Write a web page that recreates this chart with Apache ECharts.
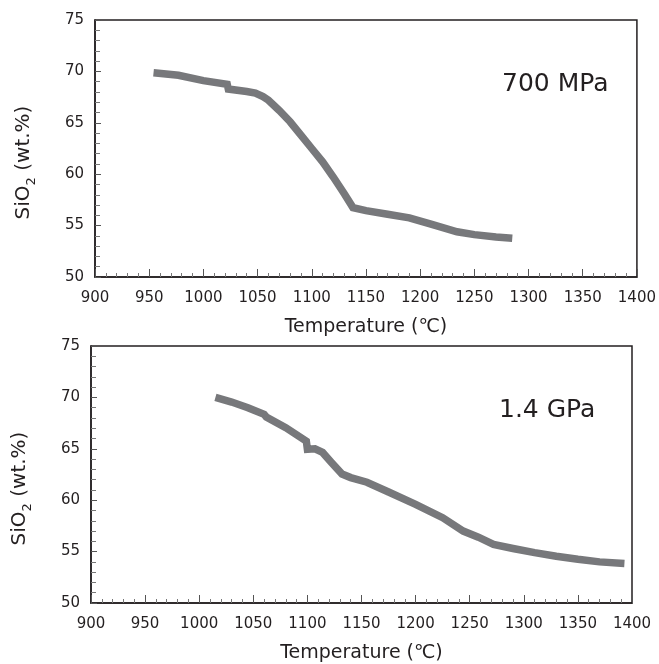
<!DOCTYPE html>
<html>
<head>
<meta charset="utf-8">
<script src="https://cdn.jsdelivr.net/npm/echarts@6/dist/echarts.min.js"></script>
<style>
  html, body { margin: 0; padding: 0; background: #fff; }
  #main { width: 659px; height: 664px; }
</style>
</head>
<body>
<div id="main"></div>
<script>
// 700 MPa run
const tempA = [954, 977, 978, 1000, 1022, 1023, 1040, 1048, 1055, 1060, 1070, 1080, 1090, 1100, 1110, 1120, 1130, 1138, 1150, 1170, 1190, 1210, 1234, 1250, 1270, 1285];
const sio2A = [69.87, 69.62, 69.45, 69.1, 68.75, 68.28, 68.05, 67.9, 67.55, 67.2, 66.2, 65.1, 63.8, 62.5, 61.2, 59.7, 58.1, 56.75, 56.45, 56.1, 55.75, 55.15, 54.4, 54.12, 53.9, 53.78];

// 1.4 GPa run
const tempB = [1015, 1030, 1045, 1060, 1062, 1080, 1099, 1100, 1107, 1114, 1122, 1132, 1140, 1155, 1175, 1200, 1225, 1244, 1258, 1272, 1290, 1310, 1330, 1350, 1370, 1393];
const sio2B = [70.0, 69.55, 69.0, 68.35, 68.1, 67.05, 65.75, 64.95, 65.0, 64.65, 63.7, 62.55, 62.2, 61.75, 60.8, 59.6, 58.3, 57.0, 56.4, 55.7, 55.3, 54.9, 54.55, 54.25, 54.0, 53.85];

const xTicks = [900, 950, 1000, 1050, 1100, 1150, 1200, 1250, 1300, 1350, 1400];
const yTicks = [50, 55, 60, 65, 70, 75];
const panelLabels = ['700 MPa', '1.4 GPa'];

const ink = '#231f20';
const lineGrey = '#77787b';
const font = 'DejaVu Sans';

function pairs(xs, ys) {
    return xs.map((x, i) => [x, ys[i]]);
}

function xAxisFor(idx) {
    return {
        type: 'value',
        gridIndex: idx,
        min: xTicks[0],
        max: xTicks[xTicks.length - 1],
        interval: 50,
        name: 'Temperature (℃)',
        nameLocation: 'middle',
        nameGap: 41,
        nameTextStyle: { fontFamily: font, fontSize: 19, color: ink },
        axisLine: { show: true, lineStyle: { color: ink, width: 1.5 } },
        axisTick: { show: true, inside: true, length: 8, lineStyle: { color: '#555' } },
        minorTick: { show: true, splitNumber: 5, length: 4, lineStyle: { color: '#777' } },
        axisLabel: { fontFamily: font, fontSize: 15, color: ink, margin: 14, formatter: v => String(v) },
        splitLine: { show: false }
    };
}

function yAxisFor(idx) {
    return {
        type: 'value',
        gridIndex: idx,
        min: yTicks[0],
        max: yTicks[yTicks.length - 1],
        interval: 5,
        name: '{a|SiO}{b|2}{a| (wt.%)}',
        nameLocation: 'middle',
        nameGap: 57,
        nameTextStyle: {
            color: ink,
            padding: [0, 28, 0, 0],
            rich: {
                a: { fontFamily: font, fontSize: 20, color: ink, verticalAlign: 'top', lineHeight: 24 },
                b: { fontFamily: font, fontSize: 13, color: ink, verticalAlign: 'bottom', lineHeight: 10 }
            }
        },
        axisLine: { show: true, lineStyle: { color: ink, width: 1.5 } },
        axisTick: { show: true, inside: true, length: 6, lineStyle: { color: '#555' } },
        minorTick: { show: true, splitNumber: 5, length: 5, lineStyle: { color: '#777' } },
        axisLabel: { fontFamily: font, fontSize: 15, color: ink, margin: 11 },
        splitLine: { show: false }
    };
}

function seriesFor(idx, data) {
    return {
        type: 'line',
        xAxisIndex: idx,
        yAxisIndex: idx,
        data: data,
        showSymbol: false,
        symbol: 'none',
        lineStyle: { color: lineGrey, width: 7.5, cap: 'butt', join: 'miter' },
        silent: true,
        animation: false
    };
}

let chart = echarts.init(document.getElementById('main'));

let option = {
    backgroundColor: '#fff',
    animation: false,
    title: [
        { text: panelLabels[0], left: 497, top: 67, textStyle: { fontFamily: font, fontSize: 25, fontWeight: 'normal', color: ink } },
        { text: panelLabels[1], left: 494, top: 393, textStyle: { fontFamily: font, fontSize: 25, fontWeight: 'normal', color: ink } }
    ],
    grid: [
        { left: 95, right: 22, top: 20, height: 257, show: true, borderColor: ink, borderWidth: 1.5, backgroundColor: 'transparent' },
        { left: 91, right: 27, top: 346, height: 258, show: true, borderColor: ink, borderWidth: 1.5, backgroundColor: 'transparent' }
    ],
    xAxis: [xAxisFor(0), xAxisFor(1)],
    yAxis: [yAxisFor(0), yAxisFor(1)],
    series: [
        seriesFor(0, pairs(tempA, sio2A)),
        seriesFor(1, pairs(tempB, sio2B))
    ]
};

chart.setOption(option);
</script>
</body>
</html>
